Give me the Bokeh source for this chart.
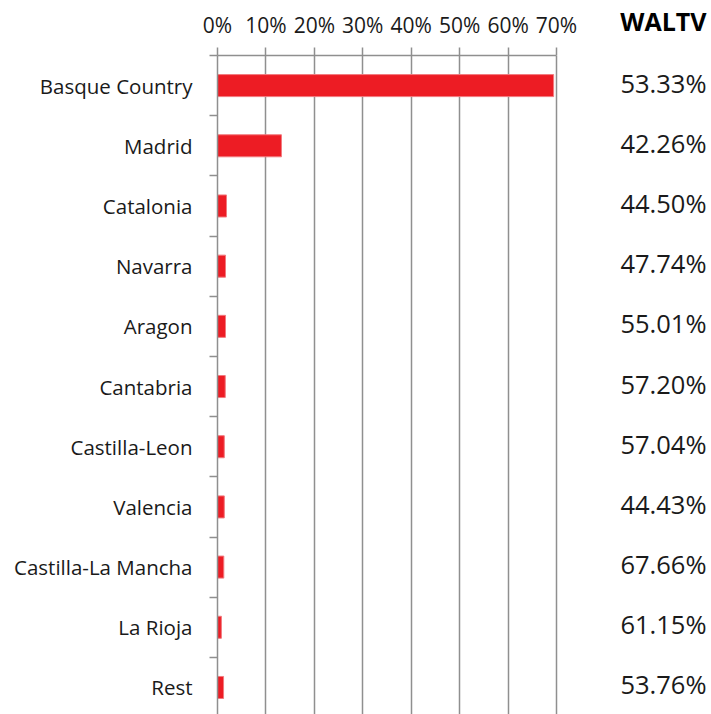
from bokeh.plotting import figure
from bokeh.layouts import row
from bokeh.models import ColumnDataSource, Range1d, FixedTicker, NumeralTickFormatter
from bokeh.core.properties import value
from bokeh.embed import file_html
from bokeh.resources import INLINE

# ---- data ----
regions = ["Basque Country", "Madrid", "Catalonia", "Navarra", "Aragon", "Cantabria",
           "Castilla-Leon", "Valencia", "Castilla-La Mancha", "La Rioja", "Rest"]
share = [0.694, 0.132, 0.0186, 0.0165, 0.0165, 0.016, 0.014, 0.014, 0.013, 0.008, 0.0125]
waltv = [53.33, 42.26, 44.50, 47.74, 55.01, 57.20, 57.04, 44.43, 67.66, 61.15, 53.76]
x_ticks = [0.0, 0.1, 0.2, 0.3, 0.4, 0.5, 0.6, 0.7]
header = "WALTV"

n = len(regions)
ypos = [n - 1 - i for i in range(n)]
boundaries = [i - 0.5 for i in range(n + 1)]

src = ColumnDataSource(dict(
    y=ypos, share=share, region=regions,
    label=["{:.2f}%".format(v) for v in waltv],
    lx=[0.962] * n,
))

FONT = "Open Sans"
GRAY = "#8f8f8f"
TXT = "#1a1a1a"
Y_START, Y_END = -0.449, 10.5
ROW_PX = 60.19

# ---- main bar chart ----
p = figure(width=580, height=714, output_backend="svg", toolbar_location=None,
           x_axis_location="above",
           x_range=Range1d(0, 0.7495), y_range=Range1d(Y_START, Y_END),
           min_border_left=217, min_border_right=0, min_border_top=55, min_border_bottom=0)
p.outline_line_color = None
p.background_fill_color = "white"

p.hbar(y="y", left=0, right="share", height=0.366, source=src,
       fill_color="#ED1C24", line_color="#f27a7e", line_width=1)

xa = p.xaxis[0]
xa.ticker = FixedTicker(ticks=x_ticks)
xa.formatter = NumeralTickFormatter(format="0%")
xa.bounds = (0, 0.7)
xa.axis_line_color = GRAY
xa.axis_line_width = 1.5
xa.major_tick_line_color = GRAY
xa.major_tick_line_width = 1.5
xa.major_tick_out = 8
xa.major_tick_in = 0
xa.minor_tick_line_color = None
xa.major_label_standoff = 9
xa.major_label_text_font = FONT
xa.major_label_text_font_size = "21px"
xa.major_label_text_color = TXT

p.xgrid.ticker = FixedTicker(ticks=x_ticks)
p.xgrid.grid_line_color = GRAY
p.xgrid.grid_line_width = 1.5
p.ygrid.grid_line_color = None

ya = p.yaxis[0]
ya.ticker = FixedTicker(ticks=ypos, minor_ticks=boundaries)
ya.major_label_overrides = {yv: r for yv, r in zip(ypos, regions)}
ya.axis_line_color = GRAY
ya.axis_line_width = 1.5
ya.major_tick_line_color = None
ya.major_tick_out = 0
ya.major_tick_in = 0
ya.minor_tick_line_color = GRAY
ya.minor_tick_line_width = 1.5
ya.minor_tick_out = 8
ya.minor_tick_in = 0
ya.major_label_standoff = 17
ya.major_label_text_font = FONT
ya.major_label_text_font_size = "20.5px"
ya.major_label_text_color = TXT

# ---- WALTV column ----
can_unalign = "frame_align" in p.properties()

if can_unalign:
    p.frame_align = False
    q = figure(width=131, height=714, output_backend="svg", toolbar_location=None,
               x_range=Range1d(0, 1), y_range=Range1d(Y_START, Y_END + 55 / ROW_PX),
               min_border_left=0, min_border_right=0, min_border_top=0, min_border_bottom=0)
    q.frame_align = False
    hsrc = ColumnDataSource(dict(x=[0.962], y=[Y_END + (55 - 21) / ROW_PX], text=[header]))
    q.text(x="x", y="y", text="text", source=hsrc, text_align="right",
           text_baseline="middle", text_font=value(FONT), text_font_size="25px",
           text_font_style="bold", text_color="black")
else:
    q = figure(width=131, height=714, output_backend="svg", toolbar_location=None,
               x_range=Range1d(0, 1), y_range=Range1d(Y_START, Y_END),
               min_border_left=0, min_border_right=0, min_border_top=55, min_border_bottom=0)
    q.title.text = header
    q.title.align = "right"
    q.title.vertical_align = "top"
    q.title.offset = 5
    q.title.standoff = 21
    q.title.text_font = FONT
    q.title.text_font_size = "25px"
    q.title.text_font_style = "bold"
    q.title.text_color = "black"

q.axis.visible = False
q.grid.grid_line_color = None
q.outline_line_color = None

q.text(x="lx", y="y", text="label", source=src, text_align="right",
       text_baseline="middle", y_offset=-3, text_font=value(FONT), text_font_size="25.5px",
       text_color=TXT)

layout = row(p, q, spacing=0)
open("out.html", "w").write(file_html(layout, INLINE))
